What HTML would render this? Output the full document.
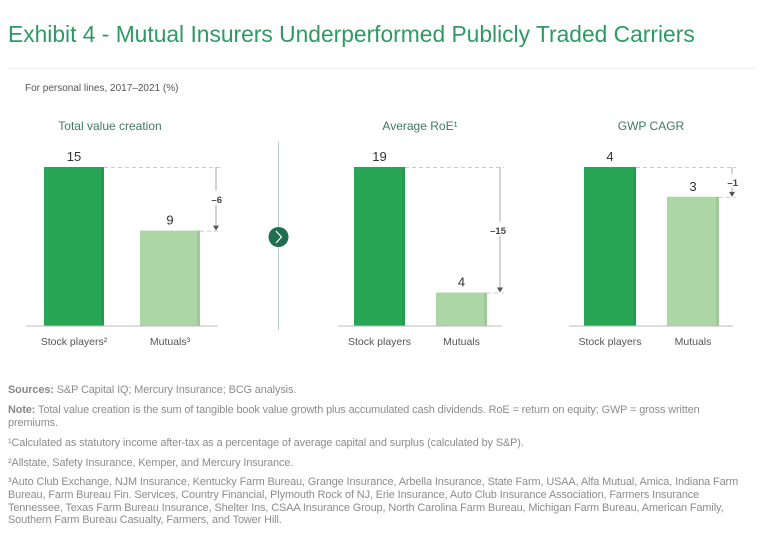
<!DOCTYPE html>
<html><head><meta charset="utf-8"><style>
body{margin:0;width:768px;height:542px;background:#fff;font-family:"Liberation Sans",sans-serif;overflow:hidden;position:relative}
.t{position:absolute;white-space:nowrap}
.fn{position:absolute;left:8px;font-size:10.9px;color:#8c8c8c;line-height:12.8px;width:745px;letter-spacing:-0.1px}
.fn b{font-weight:bold;color:#888}
</style></head><body>
<div class="t" style="left:8px;top:21px;font-size:22.8px;color:#2e9a63">Exhibit 4 - Mutual Insurers Underperformed Publicly Traded Carriers</div>
<div style="position:absolute;left:8px;top:68px;width:748px;height:1px;background:#eee"></div>
<div class="t" style="left:25px;top:83px;font-size:10px;color:#555">For personal lines, 2017–2021 (%)</div>
<svg id="c" width="768" height="380" style="position:absolute;left:0;top:0"></svg>
<div class="fn" style="top:384px"><b>Sources:</b> S&amp;P Capital IQ; Mercury Insurance; BCG analysis.</div>
<div class="fn" style="top:404px;width:735px"><b>Note:</b> Total value creation is the sum of tangible book value growth plus accumulated cash dividends. RoE = return on equity; GWP = gross written premiums.</div>
<div class="fn" style="top:437px">¹Calculated as statutory income after-tax as a percentage of average capital and surplus (calculated by S&amp;P).</div>
<div class="fn" style="top:457px">²Allstate, Safety Insurance, Kemper, and Mercury Insurance.</div>
<div class="fn" style="top:476px">³Auto Club Exchange, NJM Insurance, Kentucky Farm Bureau, Grange Insurance, Arbella Insurance, State Farm, USAA, Alfa Mutual, Amica, Indiana Farm Bureau, Farm Bureau Fin. Services, Country Financial, Plymouth Rock of NJ, Erie Insurance, Auto Club Insurance Association, Farmers Insurance Tennessee, Texas Farm Bureau Insurance, Shelter Ins, CSAA Insurance Group, North Carolina Farm Bureau, Michigan Farm Bureau, American Family, Southern Farm Bureau Casualty, Farmers, and Tower Hill.</div>
<script>
const panelTitles=["Total value creation","Average RoE¹","GWP CAGR"];
const categories=[["Stock players²","Mutuals³"],["Stock players","Mutuals"],["Stock players","Mutuals"]];
const stockValues=[15,19,4];
const mutualValues=[9,4,3.25];
const valueLabels=[["15","9"],["19","4"],["4","3"]];
const diffLabels=["–6","–15","–1"];
const NS="http://www.w3.org/2000/svg";
const svg=document.getElementById('c');
function mk(t,a,p){const e=document.createElementNS(NS,t);for(const k in a)e.setAttribute(k,a[k]);(p||svg).appendChild(e);return e;}
const geo=[{x0:26,x1:218,b:[44,140],w:60,br:216},{x0:338,x1:502,b:[354,436],w:51,br:500},{x0:569,x1:733,b:[584,667],w:52,br:732}];
const base=326,top0=167;
geo.forEach((g,i)=>{
  const g2=mk('g',{});
  
  
  const maxV=stockValues[i];
  const y=v=>base-(v/maxV)*(base-top0);
  const pt=mk('text',{x:(g.x0+g.x1)/2+(i==0?-12:0),y:130,'text-anchor':'middle','font-size':12,fill:'#3d7a60','font-family':'Liberation Sans'},g2);
  pt.textContent=panelTitles[i];
  
  
  const vals=[stockValues[i],mutualValues[i]];
  vals.forEach((v,j)=>{
    const yy=y(v);
    const r=mk('rect',{x:g.b[j],y:yy,width:g.w,height:base-yy,fill:j?'#acd6a5':'#29a655'},g2);
    
    
    mk('rect',{x:g.b[j]+g.w-3,y:yy,width:3,height:base-yy,fill:j?'#9fc798':'#259a4e'},g2);
    const vl=mk('text',{x:g.b[j]+g.w/2,y:yy-6,'text-anchor':'middle','font-size':13,fill:'#333','font-family':'Liberation Sans'},g2);
    vl.textContent=valueLabels[i][j];
    
    
    const cl=mk('text',{x:g.b[j]+g.w/2,y:345,'text-anchor':'middle','font-size':10.5,fill:'#555','font-family':'Liberation Sans'},g2);
    cl.textContent=categories[i][j];
    
    
  });
  mk('line',{x1:g.x0,x2:g.x1,y1:base,y2:base,stroke:'#bbb','stroke-width':1},g2);
  const ys=y(stockValues[i]),ym=y(mutualValues[i]);
  mk('line',{x1:g.b[0]+g.w,x2:g.br+4,y1:ys+.5,y2:ys+.5,stroke:'#ccc','stroke-dasharray':'4,3'},g2);
  mk('line',{x1:g.b[1]+g.w,x2:g.br+4,y1:ym+.5,y2:ym+.5,stroke:'#ccc','stroke-dasharray':'4,3'},g2);
  const mid=(ys+ym)/2;
  mk('line',{x1:g.br,x2:g.br,y1:ys,y2:mid-8,stroke:'#aaa'},g2);
  mk('line',{x1:g.br,x2:g.br,y1:mid+6,y2:ym-4,stroke:'#aaa'},g2);
  mk('path',{d:`M${g.br-3},${ym-5}L${g.br+3},${ym-5}L${g.br},${ym}Z`,fill:'#555'},g2);
  const dl=mk('text',{x:g.br+6,y:mid+4,'text-anchor':'end','font-size':9.5,'font-weight':'bold',fill:'#444','font-family':'Liberation Sans'},g2);
  dl.textContent=diffLabels[i];
  
  
});
const dv=mk('line',{x1:278.5,x2:278.5,y1:142,y2:330,stroke:'#b5cfc2'});


const ci=mk('circle',{cx:278.5,cy:237,r:10,fill:'#1f6e50'});


mk('path',{d:'M276,231L281.5,237L276,243',stroke:'#fff',fill:'none','stroke-width':1.2});
</script>
</body></html>
